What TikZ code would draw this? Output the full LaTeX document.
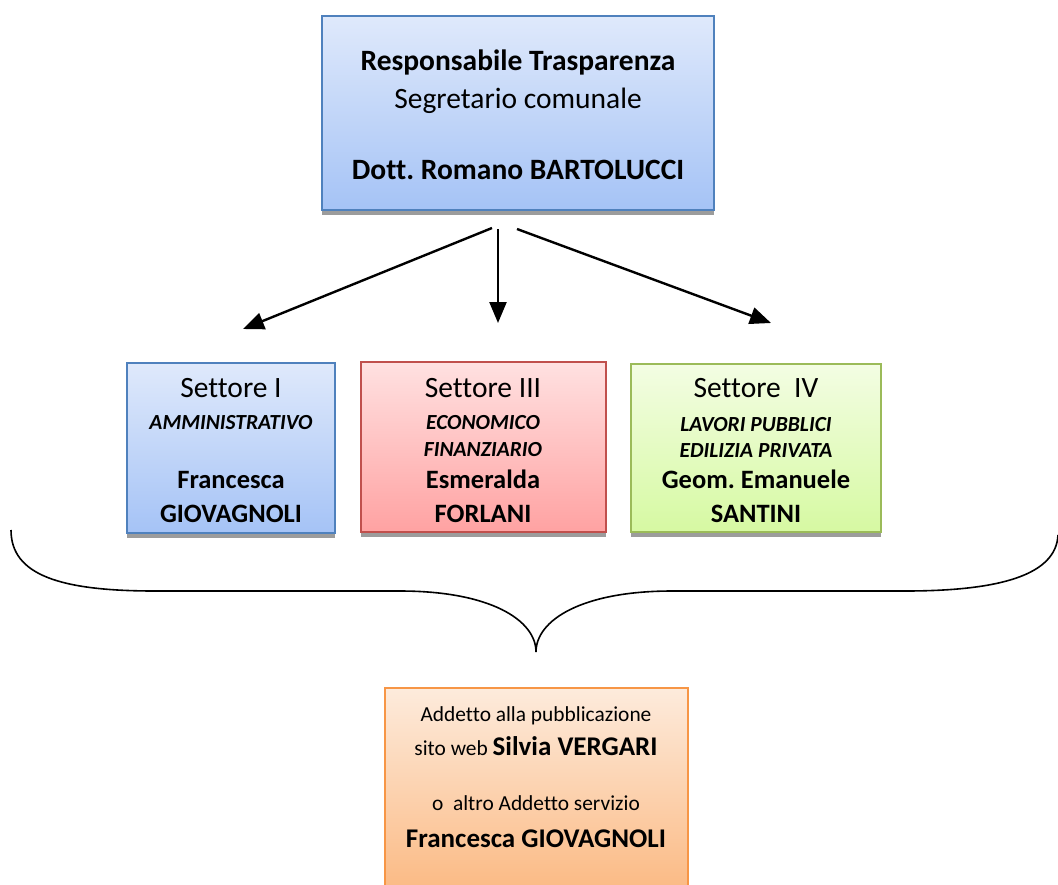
\documentclass[tikz,border=0pt]{standalone}
\usepackage{fontspec}
\setmainfont[Ligatures=NoCommon]{Carlito}
\usetikzlibrary{arrows.meta}
\frenchspacing
\definecolor{blueB}{HTML}{4F81BD}
\definecolor{blueT}{HTML}{DFE9FB}
\definecolor{blueD}{HTML}{A5C3F6}
\definecolor{redB}{HTML}{C0504D}
\definecolor{redT}{HTML}{FFE1E1}
\definecolor{redD}{HTML}{FFA2A2}
\definecolor{greenB}{HTML}{9BBB59}
\definecolor{greenT}{HTML}{F3FDE3}
\definecolor{greenD}{HTML}{D6F9A2}
\definecolor{orB}{HTML}{F79646}
\definecolor{orT}{HTML}{FDEBDC}
\definecolor{orD}{HTML}{FBBA84}
\definecolor{shadowC}{HTML}{9C9C9C}
\tikzset{
  boxstyle/.style={draw=#1B, line width=1.5pt, top color=#1T, bottom color=#1D},
  shadowbar/.style={fill=shadowC, draw=none},
  big/.style={inner sep=0pt, anchor=base, font=\fontsize{29.5}{33}\selectfont},
  bigb/.style={big, font=\fontsize{29.5}{33}\selectfont\bfseries},
  smallit/.style={inner sep=0pt, anchor=base, font=\fontsize{21.5}{24}\selectfont\bfseries\itshape},
  nameb/.style={inner sep=0pt, anchor=base, font=\fontsize{26.5}{30}\selectfont\bfseries},
  smallr/.style={inner sep=0pt, anchor=base, font=\fontsize{21.4}{24}\selectfont},
  arr/.style={line width=2.4pt, -{Triangle[length=21pt,width=17pt]}},
}
\begin{document}
\begin{tikzpicture}[x=1pt,y=-1pt]
\useasboundingbox (0,0) rectangle (1058,884);
% top box
\fill[shadowbar] (322,210) rectangle (714,215);
\path[boxstyle=blue] (322,16) rectangle (714,210);
\node[bigb] (t1) at (518,70) {Responsabile Trasparenza};
\node[big] (t2) at (518,108) {Segretario comunale};
\node[bigb] (t3) at (518,179) {Dott. Romano BARTOLUCCI};
% arrow endpoints
\coordinate (a1s) at (492,228);
\coordinate (a2s) at (498,229);
\coordinate (a3s) at (517,229);
\coordinate (a1e) at (243,329);
\coordinate (a2e) at (498,323);
\coordinate (a3e) at (771,323);
\draw[arr] (a1s) -- (a1e);
\draw[arr] (a2s) -- (a2e);
\draw[arr] (a3s) -- (a3e);
% box 1
\fill[shadowbar] (127,533) rectangle (335,538);
\path[boxstyle=blue] (127,363) rectangle (335,533);
\node[big] (b1a) at (231,397) {Settore I};
\node[smallit] (b1b) at (231,429) {AMMINISTRATIVO};
\node[nameb] (b1c) at (231,488) {Francesca};
\node[nameb] (b1d) at (231,522) {GIOVAGNOLI};
% box 2
\fill[shadowbar] (361,532) rectangle (606,537);
\path[boxstyle=red] (361,362) rectangle (606,532);
\node[big] (b2a) at (483,397) {Settore III};
\node[smallit] (b2b) at (483,429) {ECONOMICO};
\node[smallit] (b2c) at (483,456) {FINANZIARIO};
\node[nameb] (b2d) at (483,488) {Esmeralda};
\node[nameb] (b2e) at (483,522) {FORLANI};
% box 3
\fill[shadowbar] (631,532) rectangle (881,537);
\path[boxstyle=green] (631,364) rectangle (881,532);
\node[big] (b3a) at (756,397) {Settore\ \ IV};
\node[smallit] (b3b) at (756,431) {LAVORI PUBBLICI};
\node[smallit] (b3c) at (756,457) {EDILIZIA PRIVATA};
\node[nameb] (b3d) at (756,488) {Geom. Emanuele};
\node[nameb] (b3e) at (756,522) {SANTINI};
% brace
\draw[line width=1.6pt] (11,530) .. controls (11,575) and (60,591) .. (155,591) -- (400,591)
  .. controls (490,591) and (536,620) .. (536,652)
  .. controls (536,620) and (582,591) .. (672,591) -- (905,591)
  .. controls (1000,591) and (1056,575) .. (1058,535);
% bottom box
\path[boxstyle=or] (385,688) rectangle (688,890);
\node[smallr] (c1) at (536,721) {Addetto alla pubblicazione};
\node[inner sep=0pt, anchor=base, font=\fontsize{21.4}{24}\selectfont] (c2) at (536,755) {sito web \textbf{\fontsize{27}{30}\selectfont Silvia VERGARI}};
\node[smallr] (c3) at (536,810) {o\ \ altro Addetto servizio};
\node[inner sep=0pt, anchor=base, font=\fontsize{27}{30}\selectfont\bfseries] (c4) at (536,847) {Francesca GIOVAGNOLI};
\end{tikzpicture}
\end{document}
